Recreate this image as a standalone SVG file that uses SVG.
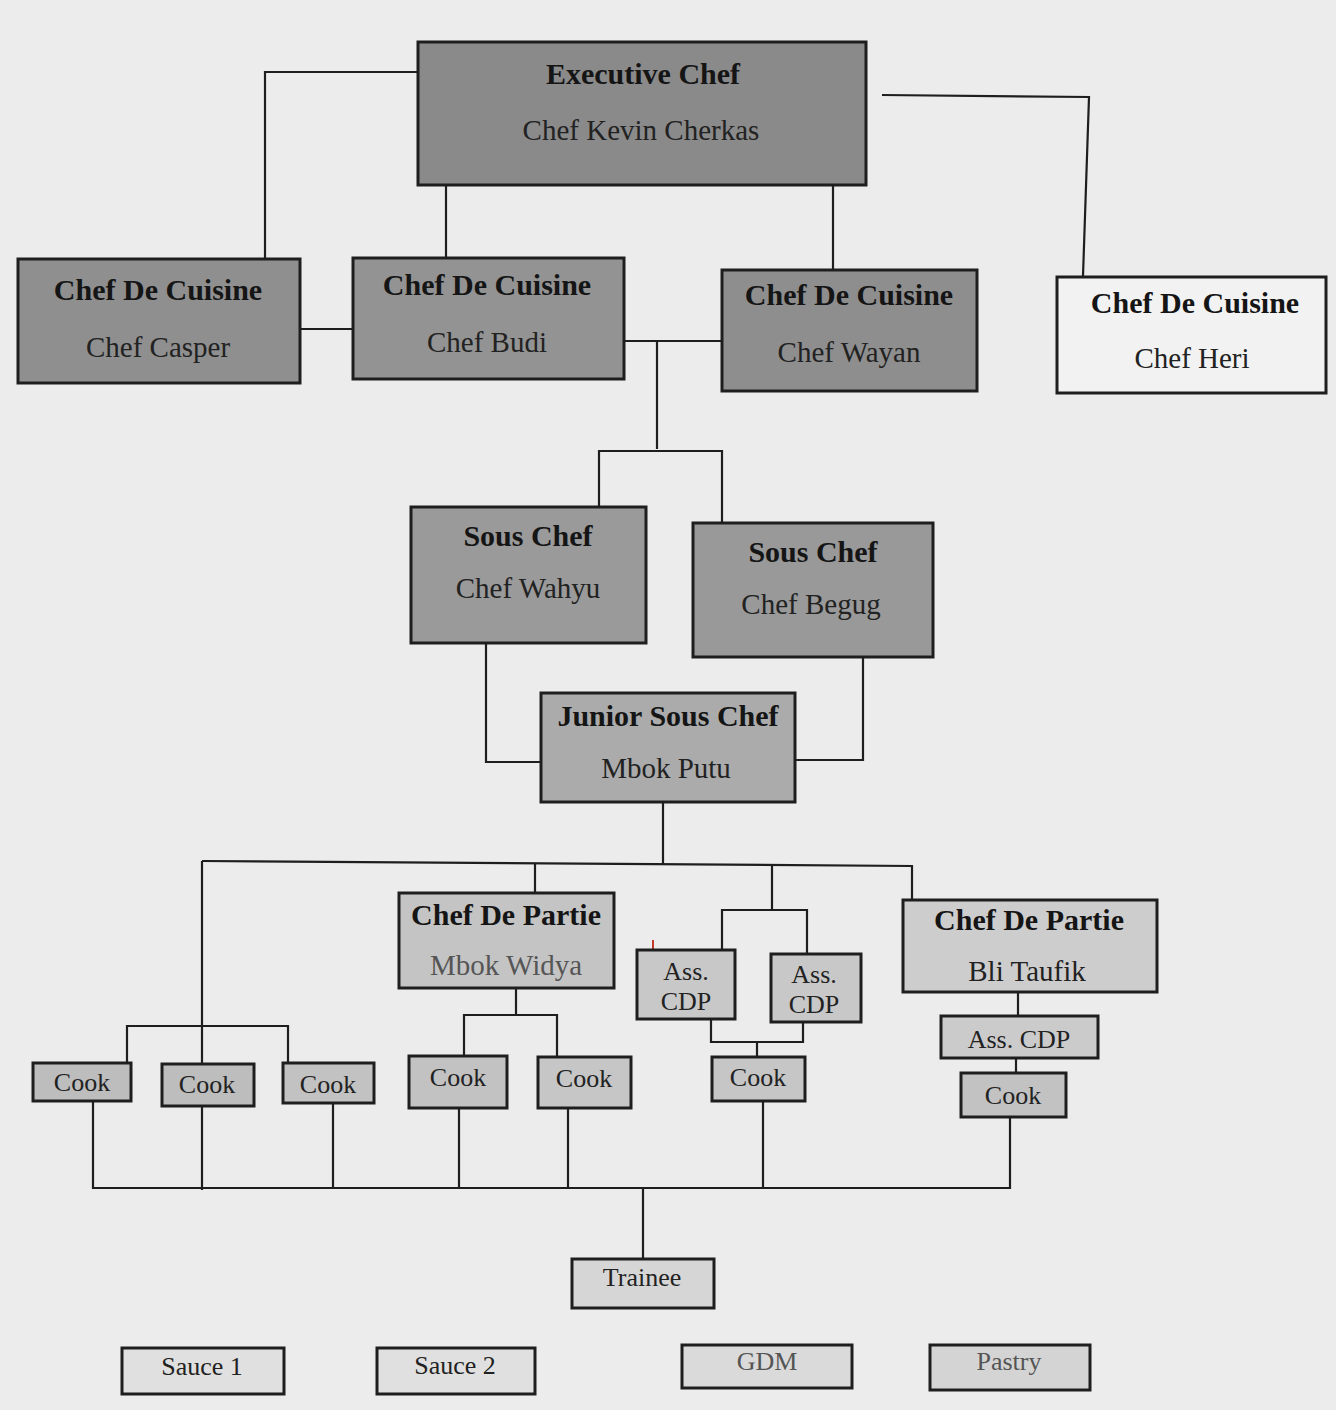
<svg xmlns="http://www.w3.org/2000/svg" width="1336" height="1410" viewBox="0 0 1336 1410">
<style>
.box{stroke:#1e1e1e;stroke-width:3}
.t{font-family:"Liberation Serif","Times New Roman",serif;font-weight:bold;font-size:30px;fill:#151515;text-anchor:middle}
.n{font-family:"Liberation Serif","Times New Roman",serif;font-size:29px;fill:#222;text-anchor:middle}
.s{font-family:"Liberation Serif","Times New Roman",serif;font-size:26px;fill:#222;text-anchor:middle}
.f{fill:#555}
#connectors path{fill:none;stroke:#1e1e1e;stroke-width:2.2}
</style>
<rect width="1336" height="1410" fill="#ececec"/>
<g id="connectors">
<path d="M418,72 H265 V260"/>
<path d="M446,186 V258"/>
<path d="M833,186 V270"/>
<path d="M882,95 L1089,97 L1083,276"/>
<path d="M300,329 H353"/>
<path d="M624,341 H722"/>
<path d="M657,341 V449"/>
<path d="M599,506 V451 H722 V522"/>
<path d="M486,643 V762 H541"/>
<path d="M863,657 V760 H795"/>
<path d="M663,802 V865"/>
<path d="M202,861 L912,866 V899"/>
<path d="M202,861 V1190"/>
<path d="M535,864 V892"/>
<path d="M772,866 V910"/>
<path d="M722,950 V910 H807 V954"/>
<path d="M711,1019 V1042 H803 V1022"/>
<path d="M757,1042 V1057"/>
<path d="M1018,992 V1016"/>
<path d="M1016,1058 V1073"/>
<path d="M127,1063 V1026 H288 V1063"/>
<path d="M516,988 V1015"/>
<path d="M464,1056 V1015 H557 V1057"/>
<path d="M93,1101 V1188 H1010 V1117"/>
<path d="M333,1103 V1188"/>
<path d="M459,1108 V1188"/>
<path d="M568,1108 V1188"/>
<path d="M763,1101 V1188"/>
<path d="M643,1188 V1258"/>
<line x1="653" y1="940" x2="653" y2="966" stroke="#c0392b" stroke-width="2"/>
</g>
<g id="exec"><rect class="box" x="418" y="42" width="448" height="143" fill="#8a8a8a"/><text class="t" x="643" y="84">Executive Chef</text><text class="n" x="641" y="140">Chef Kevin Cherkas</text></g>
<g id="cdc-casper"><rect class="box" x="18" y="259" width="282" height="124" fill="#8f8f8f"/><text class="t" x="158" y="300">Chef De Cuisine</text><text class="n" x="158" y="357">Chef Casper</text></g>
<g id="cdc-budi"><rect class="box" x="353" y="258" width="271" height="121" fill="#939393"/><text class="t" x="487" y="295">Chef De Cuisine</text><text class="n" x="487" y="352">Chef Budi</text></g>
<g id="cdc-wayan"><rect class="box" x="722" y="270" width="255" height="121" fill="#8e8e8e"/><text class="t" x="849" y="305">Chef De Cuisine</text><text class="n" x="849" y="362">Chef Wayan</text></g>
<g id="cdc-heri"><rect class="box" x="1057" y="277" width="269" height="116" fill="#f2f2f2"/><text class="t" x="1195" y="313">Chef De Cuisine</text><text class="n" x="1192" y="368">Chef Heri</text></g>
<g id="sous-wahyu"><rect class="box" x="411" y="507" width="235" height="136" fill="#9a9a9a"/><text class="t" x="528" y="546">Sous Chef</text><text class="n" x="528" y="598">Chef Wahyu</text></g>
<g id="sous-begug"><rect class="box" x="693" y="523" width="240" height="134" fill="#999999"/><text class="t" x="813" y="562">Sous Chef</text><text class="n" x="811" y="614">Chef Begug</text></g>
<g id="junior"><rect class="box" x="541" y="693" width="254" height="109" fill="#ababab"/><text class="t" x="668" y="726">Junior Sous Chef</text><text class="n" x="666" y="778">Mbok Putu</text></g>
<g id="cdp-widya"><rect class="box" x="399" y="893" width="215" height="95" fill="#c4c4c4"/><text class="t" x="506" y="925" font-size="27">Chef De Partie</text><text class="n f" x="506" y="975" font-size="26">Mbok Widya</text></g>
<g id="cdp-taufik"><rect class="box" x="903" y="900" width="254" height="92" fill="#cdcdcd"/><text class="t" x="1029" y="930" font-size="27">Chef De Partie</text><text class="n" x="1027" y="981" font-size="26">Bli Taufik</text></g>
<g id="acdp1"><rect class="box" x="637" y="950" width="98" height="69" fill="#c8c8c8"/><text class="s" x="686" y="980">Ass.</text><text class="s" x="686" y="1010">CDP</text></g>
<g id="acdp2"><rect class="box" x="771" y="954" width="90" height="68" fill="#c8c8c8"/><text class="s" x="814" y="983">Ass.</text><text class="s" x="814" y="1013">CDP</text></g>
<g id="acdp3"><rect class="box" x="941" y="1016" width="157" height="42" fill="#cbcbcb"/><text class="s" x="1019" y="1048">Ass. CDP</text></g>
<g id="cook1"><rect class="box" x="33" y="1063" width="98" height="38" fill="#bdbdbd"/><text class="s" x="82" y="1091">Cook</text></g>
<g id="cook2"><rect class="box" x="162" y="1064" width="92" height="42" fill="#bdbdbd"/><text class="s" x="207" y="1093">Cook</text></g>
<g id="cook3"><rect class="box" x="283" y="1063" width="91" height="40" fill="#c2c2c2"/><text class="s" x="328" y="1093">Cook</text></g>
<g id="cook4"><rect class="box" x="409" y="1056" width="98" height="52" fill="#c2c2c2"/><text class="s" x="458" y="1086">Cook</text></g>
<g id="cook5"><rect class="box" x="538" y="1057" width="93" height="51" fill="#c6c6c6"/><text class="s" x="584" y="1087">Cook</text></g>
<g id="cook6"><rect class="box" x="712" y="1057" width="93" height="44" fill="#c6c6c6"/><text class="s" x="758" y="1086">Cook</text></g>
<g id="cook7"><rect class="box" x="961" y="1073" width="105" height="44" fill="#c2c2c2"/><text class="s" x="1013" y="1104">Cook</text></g>
<g id="trainee"><rect class="box" x="572" y="1259" width="142" height="49" fill="#d6d6d6"/><text class="s" x="642" y="1286" font-size="25">Trainee</text></g>
<g id="sauce1"><rect class="box" x="122" y="1348" width="162" height="46" fill="#e0e0e0"/><text class="s" x="202" y="1375" font-size="25">Sauce 1</text></g>
<g id="sauce2"><rect class="box" x="377" y="1348" width="158" height="46" fill="#e0e0e0"/><text class="s" x="455" y="1374" font-size="25">Sauce 2</text></g>
<g id="gdm"><rect class="box" x="682" y="1345" width="170" height="43" fill="#dadada"/><text class="s f" x="767" y="1370" font-size="25">GDM</text></g>
<g id="pastry"><rect class="box" x="930" y="1345" width="160" height="45" fill="#d4d4d4"/><text class="s f" x="1009" y="1370" font-size="25">Pastry</text></g>
</svg>
